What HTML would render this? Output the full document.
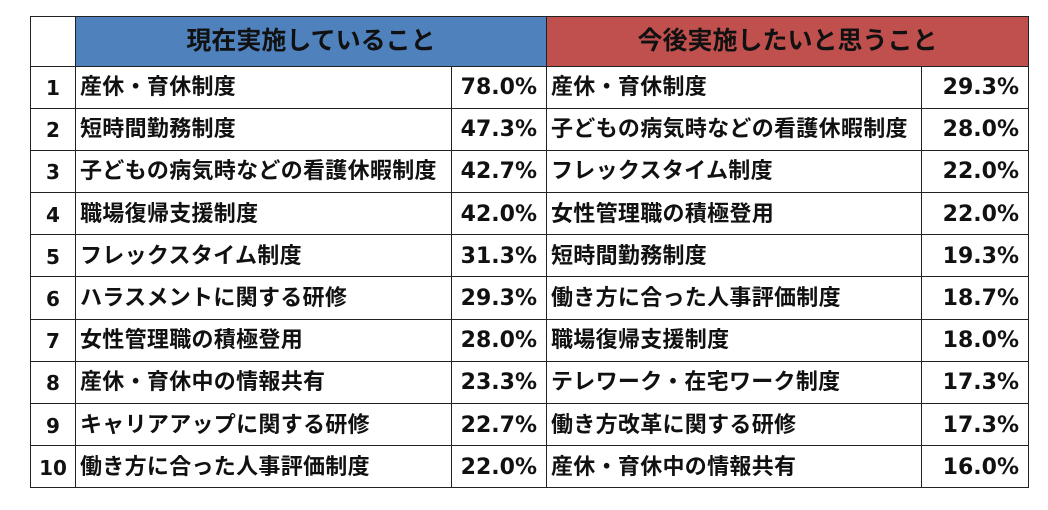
<!DOCTYPE html>
<html><head><meta charset="utf-8"><style>
body{margin:0;width:1048px;height:510px;background:#fff;font-family:"DejaVu Sans","Noto Sans CJK JP",sans-serif;font-weight:bold;color:#111;}
table{position:absolute;left:30px;top:16px;border-collapse:collapse;table-layout:fixed;}
td{border:1.5px solid #222;padding:0;height:41.2px;font-size:21px;line-height:24px;white-space:nowrap;overflow:hidden;vertical-align:middle;}
tr.h td{height:48.5px;font-size:25px;line-height:28px;text-align:center;font-family:"Noto Sans CJK JP",sans-serif;}
tr.h td span{position:relative;top:-2px;}
.n{text-align:center;font-size:20px;}
.t{padding-left:4px;font-family:"Noto Sans CJK JP",sans-serif;font-size:22px;letter-spacing:0.3px;}
.t span{position:relative;top:-2px;}
.p{text-align:right;padding-right:9px;font-size:22px;}
.p span,.n span{position:relative;top:1px;}
.b{background:#4F81BD;}
.r{background:#C0504D;}
</style></head><body>
<table>
<colgroup><col style="width:45px"><col style="width:376px"><col style="width:95px"><col style="width:375px"><col style="width:107px"></colgroup>
<tr class="h"><td></td><td class="b" colspan="2"><span>現在実施していること</span></td><td class="r" colspan="2"><span>今後実施したいと思うこと</span></td></tr>
<tr><td class="n"><span>1</span></td><td class="t"><span>産休・育休制度</span></td><td class="p"><span>78.0%</span></td><td class="t"><span>産休・育休制度</span></td><td class="p"><span>29.3%</span></td></tr>
<tr><td class="n"><span>2</span></td><td class="t"><span>短時間勤務制度</span></td><td class="p"><span>47.3%</span></td><td class="t"><span>子どもの病気時などの看護休暇制度</span></td><td class="p"><span>28.0%</span></td></tr>
<tr><td class="n"><span>3</span></td><td class="t"><span>子どもの病気時などの看護休暇制度</span></td><td class="p"><span>42.7%</span></td><td class="t"><span>フレックスタイム制度</span></td><td class="p"><span>22.0%</span></td></tr>
<tr><td class="n"><span>4</span></td><td class="t"><span>職場復帰支援制度</span></td><td class="p"><span>42.0%</span></td><td class="t"><span>女性管理職の積極登用</span></td><td class="p"><span>22.0%</span></td></tr>
<tr><td class="n"><span>5</span></td><td class="t"><span>フレックスタイム制度</span></td><td class="p"><span>31.3%</span></td><td class="t"><span>短時間勤務制度</span></td><td class="p"><span>19.3%</span></td></tr>
<tr><td class="n"><span>6</span></td><td class="t"><span>ハラスメントに関する研修</span></td><td class="p"><span>29.3%</span></td><td class="t"><span>働き方に合った人事評価制度</span></td><td class="p"><span>18.7%</span></td></tr>
<tr><td class="n"><span>7</span></td><td class="t"><span>女性管理職の積極登用</span></td><td class="p"><span>28.0%</span></td><td class="t"><span>職場復帰支援制度</span></td><td class="p"><span>18.0%</span></td></tr>
<tr><td class="n"><span>8</span></td><td class="t"><span>産休・育休中の情報共有</span></td><td class="p"><span>23.3%</span></td><td class="t"><span>テレワーク・在宅ワーク制度</span></td><td class="p"><span>17.3%</span></td></tr>
<tr><td class="n"><span>9</span></td><td class="t"><span>キャリアアップに関する研修</span></td><td class="p"><span>22.7%</span></td><td class="t"><span>働き方改革に関する研修</span></td><td class="p"><span>17.3%</span></td></tr>
<tr><td class="n"><span>10</span></td><td class="t"><span>働き方に合った人事評価制度</span></td><td class="p"><span>22.0%</span></td><td class="t"><span>産休・育休中の情報共有</span></td><td class="p"><span>16.0%</span></td></tr>
</table>
</body></html>
